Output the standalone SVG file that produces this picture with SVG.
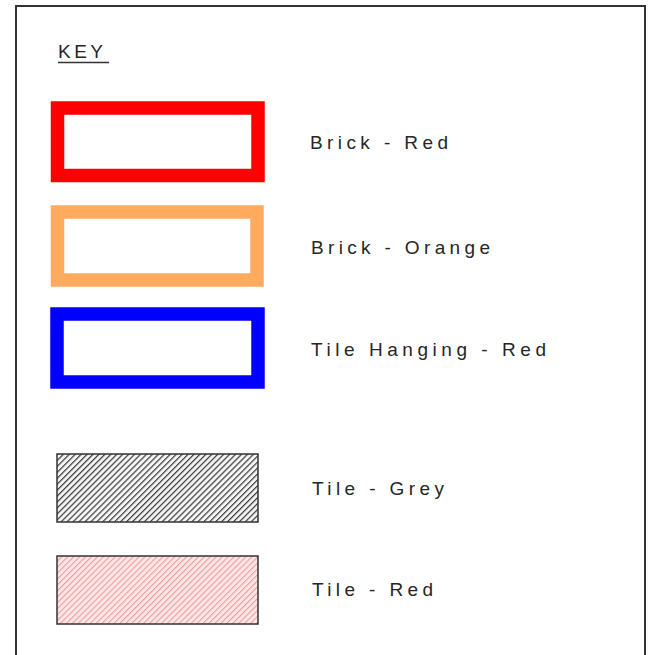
<svg xmlns="http://www.w3.org/2000/svg" width="653" height="655" viewBox="0 0 653 655">
<style>
.lbl{font-family:"Liberation Sans",Arial,sans-serif;font-size:19px;fill:#262626;}
.box{fill:#fff;stroke-width:13.5;}
</style>
<defs>
<pattern id="hatchGrey" patternUnits="userSpaceOnUse" width="4.2" height="4.2" patternTransform="rotate(45)">
<rect width="4.2" height="4.2" fill="#f4f4f4"/>
<line x1="0" y1="0" x2="0" y2="4.2" stroke="#3a3a3a" stroke-width="2.4"/>
</pattern>
<pattern id="hatchRed" patternUnits="userSpaceOnUse" width="4.2" height="4.2" patternTransform="rotate(45)">
<rect width="4.2" height="4.2" fill="#fce6e6"/>
<line x1="0" y1="0" x2="0" y2="4.2" stroke="#ee9c9c" stroke-width="2.2"/>
</pattern>
</defs>
<rect width="653" height="655" fill="#fff"/>
<path d="M16,655 V6 H645 V655" fill="none" stroke="#333" stroke-width="2"/>
<g id="title">
<text class="lbl" x="58" y="58" textLength="45" lengthAdjust="spacing" font-size="18">KEY</text>
<line x1="58" y1="62.5" x2="109" y2="62.5" stroke="#333" stroke-width="1.5"/>
</g>
<g id="brick-red">
<rect class="box" x="57.5" y="108" width="200.5" height="67.5" stroke="#ff0000"/>
<text class="lbl" x="310" y="149" textLength="138" lengthAdjust="spacing">Brick - Red</text>
</g>
<g id="brick-orange">
<rect class="box" x="57.5" y="212" width="199.5" height="68" stroke="#ffab5f"/>
<text class="lbl" x="311" y="254" textLength="179" lengthAdjust="spacing">Brick - Orange</text>
</g>
<g id="tile-hanging-red">
<rect class="box" x="57" y="314" width="201" height="68" stroke="#0000ff"/>
<text class="lbl" x="311" y="356" textLength="235" lengthAdjust="spacing">Tile Hanging - Red</text>
</g>
<g id="tile-grey">
<rect x="57" y="454" width="201" height="68" fill="url(#hatchGrey)" stroke="#333" stroke-width="1.5"/>
<text class="lbl" x="312" y="495" textLength="132" lengthAdjust="spacing">Tile - Grey</text>
</g>
<g id="tile-red">
<rect x="57" y="556" width="201" height="68" fill="url(#hatchRed)" stroke="#333" stroke-width="1.5"/>
<text class="lbl" x="312" y="596" textLength="121" lengthAdjust="spacing">Tile - Red</text>
</g>
<g id="connectors"/>
</svg>
